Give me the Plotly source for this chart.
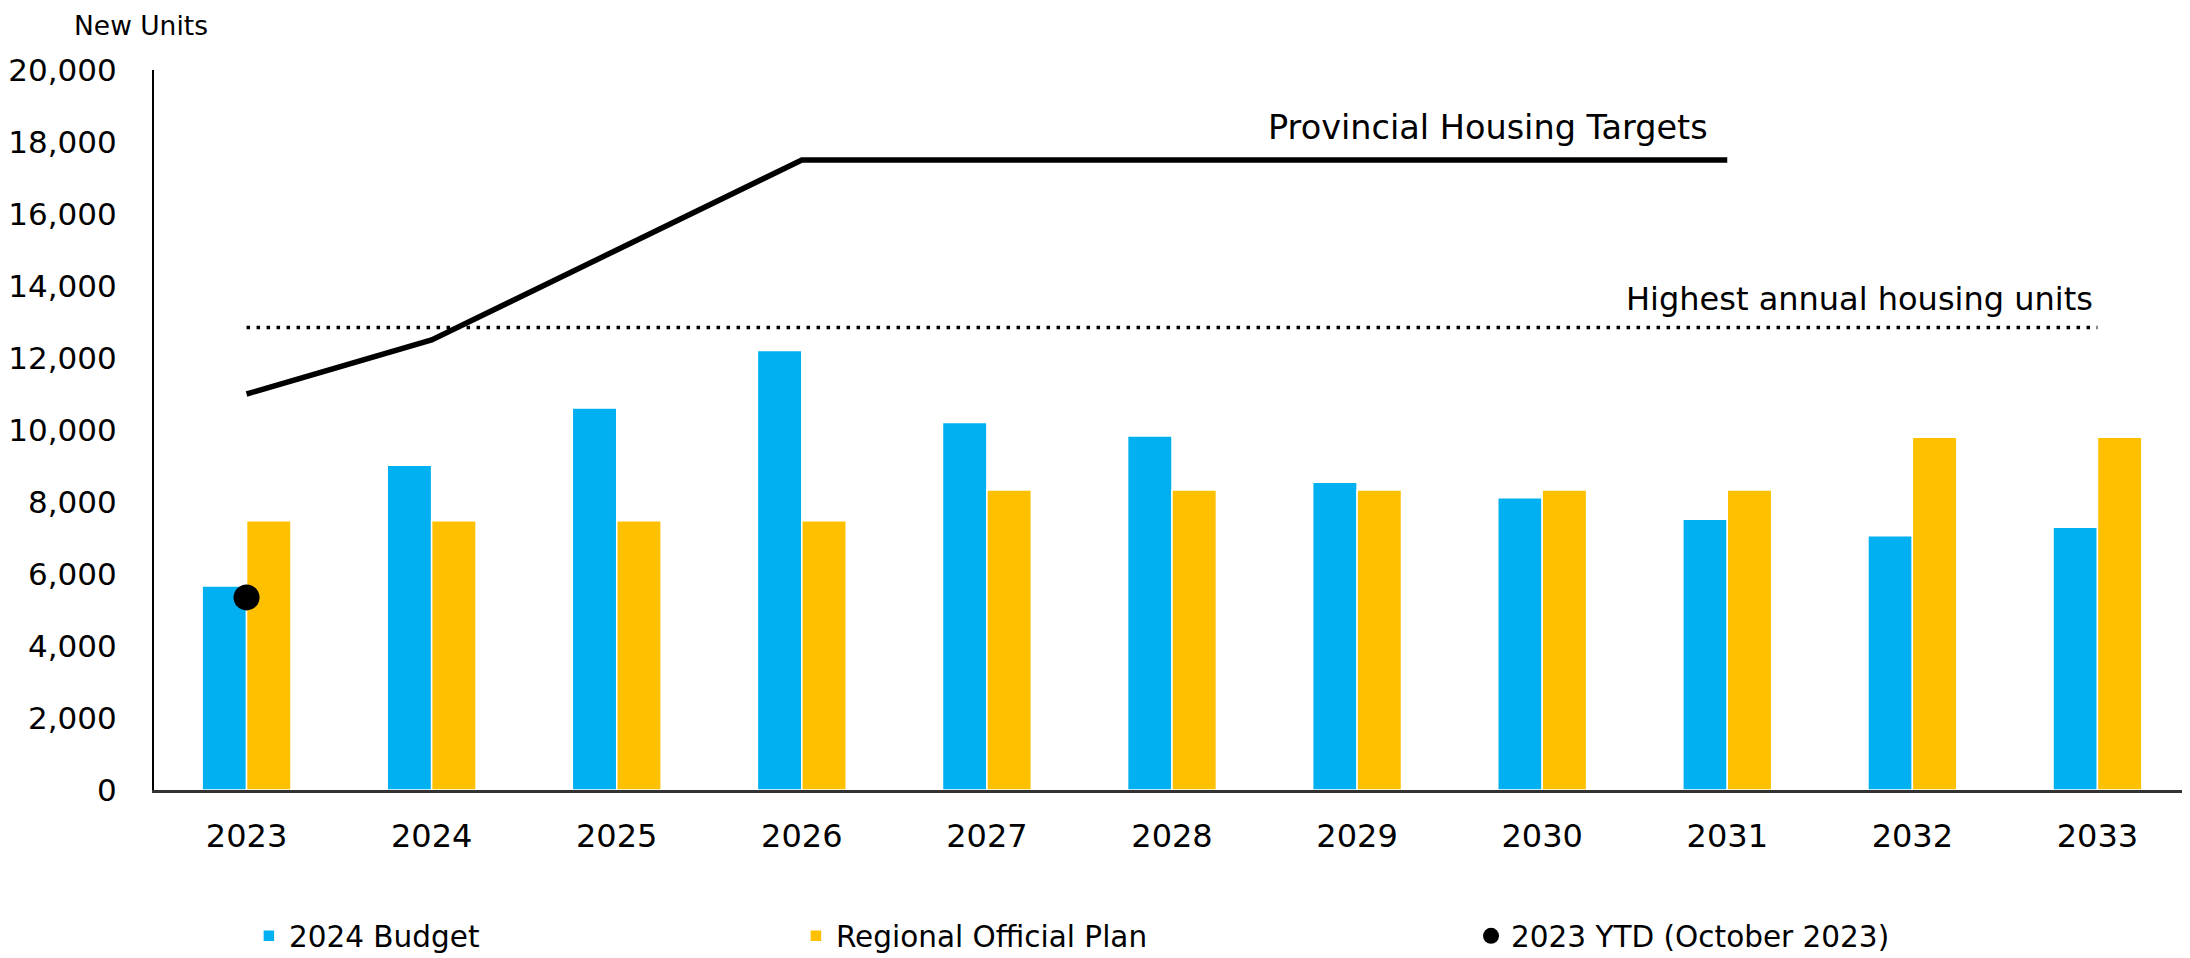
import plotly.graph_objects as go

years = ["2023", "2024", "2025", "2026", "2027", "2028", "2029", "2030", "2031", "2032", "2033"]
budget_2024 = [5670, 9020, 10610, 12210, 10210, 9830, 8550, 8120, 7520, 7060, 7300]
regional_plan = [7480, 7480, 7480, 7480, 8330, 8330, 8330, 8330, 8330, 9800, 9800]
ytd_years = ["2023"]
ytd_values = [5350]
prov_years = ["2023", "2024", "2025", "2026", "2027", "2028", "2029", "2030", "2031"]
prov_targets = [11000, 12500, 15000, 17500, 17500, 17500, 17500, 17500, 17500]
highest_years = years
highest_units = [12850] * len(years)

FONT = "DejaVu Sans"
BLUE = "#00B0F0"
GOLD = "#FFC000"

fig = go.Figure()
fig.add_trace(go.Bar(x=years, y=budget_2024, name="2024 Budget", marker=dict(color=BLUE, line=dict(color="white", width=1.5)), legend="legend"))
fig.add_trace(go.Bar(x=years, y=regional_plan, name="Regional Official Plan", marker=dict(color=GOLD, line=dict(color="white", width=1.5)), legend="legend2"))
fig.add_trace(go.Scatter(x=prov_years, y=prov_targets, mode="lines", line=dict(color="black", width=5.5), showlegend=False, name="Provincial Housing Targets"))
fig.add_trace(go.Scatter(x=highest_years, y=highest_units, mode="lines", line=dict(color="black", width=3.5, dash="3.5px,6.5px"), showlegend=False, name="Highest annual housing units"))
fig.add_trace(go.Scatter(x=ytd_years, y=ytd_values, mode="markers", name="2023 YTD (October 2023)", marker=dict(color="black", size=26, symbol="circle"), legend="legend3"))

legend_common = dict(orientation="h", yref="container", yanchor="middle", y=0.023, xref="container", xanchor="left",
                     font=dict(family=FONT, size=29.5, color="black"), bgcolor="rgba(0,0,0,0)")

# page body has an 8px margin, so the figure is offset by 8px right/down
fig.update_layout(
    width=2182, height=950,
    margin=dict(l=146, r=0, t=62, b=168),
    plot_bgcolor="white", paper_bgcolor="white",
    font=dict(family=FONT, size=31, color="black"),
    barmode="group", bargap=0.52, bargroupgap=0,
    legend=dict(x=0.1104, **legend_common),
    legend2=dict(x=0.3611, **legend_common),
    legend3=dict(x=0.6705, **legend_common),
    xaxis=dict(type="category", range=[-0.5, 10.5], automargin=False, showline=True, linecolor="#333333", linewidth=3, showgrid=False, ticks="", ticklabelstandoff=16, tickfont=dict(family=FONT, size=32)),
    yaxis=dict(range=[0, 20000], dtick=2000, tickformat=",", automargin=False, showline=True, linecolor="black", linewidth=2, showgrid=False, zeroline=False, ticks="", ticklabelstandoff=29, tickfont=dict(family=FONT, size=31)),
    annotations=[
        dict(text="New Units", xref="paper", yref="paper", x=-0.0403, y=1.0625, xanchor="left", yanchor="middle", showarrow=False, font=dict(family=FONT, size=26.5, color="black")),
        dict(text="Provincial Housing Targets", xref="x", yref="y", x=8, y=18400, xanchor="right", yanchor="middle", xshift=-17, showarrow=False, font=dict(family=FONT, size=33.5, color="black")),
        dict(text="Highest annual housing units", xref="x", yref="y", x=10, y=13640, xanchor="right", yanchor="middle", xshift=-2, showarrow=False, font=dict(family=FONT, size=32, color="black")),
    ],
)

fig.write_html("out.html")
